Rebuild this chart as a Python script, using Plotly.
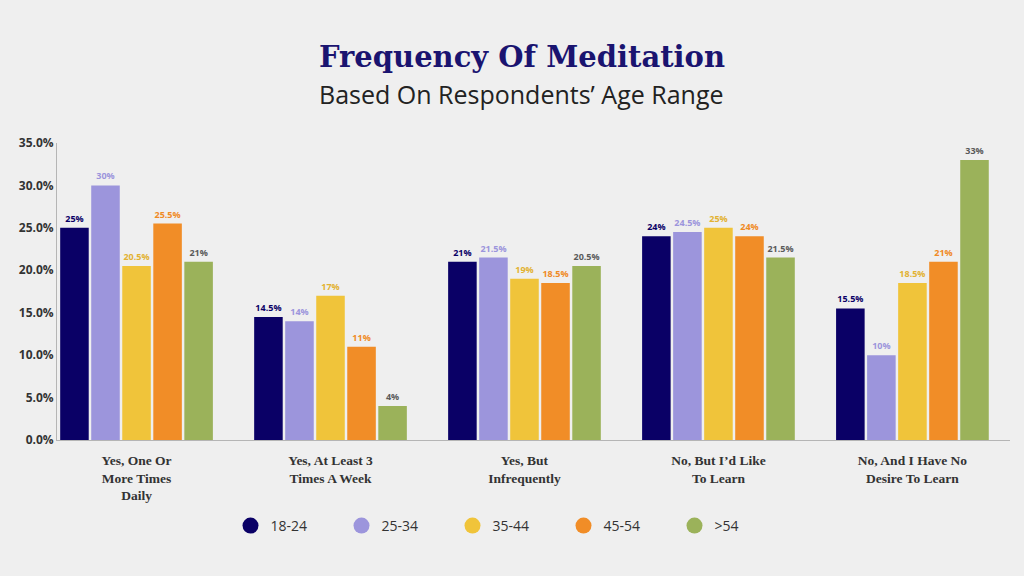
import plotly.graph_objects as go

categories = [
    "Yes, One Or<br>More Times<br>Daily",
    "Yes, At Least 3<br>Times A Week",
    "Yes, But<br>Infrequently",
    "No, But I’d Like<br>To Learn",
    "No, And I Have No<br>Desire To Learn",
]
series_names = ["18-24", "25-34", "35-44", "45-54", ">54"]
v_18_24 = [25, 14.5, 21, 24, 15.5]
v_25_34 = [30, 14, 21.5, 24.5, 10]
v_35_44 = [20.5, 17, 19, 25, 18.5]
v_45_54 = [25.5, 11, 18.5, 24, 21]
v_55 = [21, 4, 20.5, 21.5, 33]
series_values = [v_18_24, v_25_34, v_35_44, v_45_54, v_55]
y_ticks = [0, 5, 10, 15, 20, 25, 30, 35]
y_tick_labels = ["0.0%", "5.0%", "10.0%", "15.0%", "20.0%", "25.0%", "30.0%", "35.0%"]

bar_colors = ["#0a0066", "#9c95dc", "#f0c43a", "#f18d27", "#9bb25a"]
label_colors = ["#0a0066", "#9c95dc", "#e2b232", "#ef8a25", "#5a5a5a"]

fig = go.Figure()
for name, vals, bc, lc in zip(series_names, series_values, bar_colors, label_colors):
    fig.add_trace(go.Bar(
        x=categories, y=vals, name=name,
        marker=dict(color=bc, line=dict(width=0)),
        text=[f"{v:g}%" for v in vals], textposition="outside",
        textfont=dict(family="Open Sans", size=9, color=lc, weight="bold"),
        constraintext="none", cliponaxis=False,
        showlegend=False, hoverinfo="skip",
    ))
    fig.add_trace(go.Scatter(
        x=[None], y=[None], mode="markers", name=name,
        marker=dict(symbol="circle", size=18, color=bc),
        showlegend=True,
    ))

plot_w = 1024 - 57 - 14
plot_h = 576 - 143 - 136

def py(px):
    return (576 - 136 - px) / plot_h

def px_x(px):
    return (px - 57) / plot_w

fig.update_layout(
    width=1024, height=576,
    paper_bgcolor="#efefef", plot_bgcolor="rgba(0,0,0,0)",
    margin=dict(l=57, r=14, t=143, b=136),
    barmode="group", bargap=0.2, bargroupgap=0.08,
    showlegend=True,
    legend=dict(
        orientation="h", x=px_x(508), xanchor="center", y=py(526), yanchor="middle",
        font=dict(family="Open Sans", size=14, color="#333333"),
        entrywidth=66, entrywidthmode="pixels", itemsizing="trace",
        bgcolor="rgba(0,0,0,0)",
    ),
    xaxis=dict(
        type="category", range=[-0.41, 4.503],
        showline=True, linecolor="#b5b5b5", linewidth=1,
        showgrid=False, ticks="", ticklabelstandoff=8,
        tickfont=dict(family="Liberation Serif", size=13.5, color="#333333", weight="bold"),
    ),
    yaxis=dict(
        range=[0, 35], tickvals=y_ticks, ticktext=y_tick_labels,
        showline=True, linecolor="#b5b5b5", linewidth=1,
        showgrid=False, zeroline=False, ticks="",
        tickfont=dict(family="Open Sans", size=12, color="#333333", weight="bold"),
    ),
    annotations=[
        dict(text="Frequency Of Meditation", x=px_x(521.5), y=py(57), xref="paper", yref="paper",
             xanchor="center", yanchor="middle",
             showarrow=False, font=dict(family="DejaVu Serif", size=29, color="#1a1470", weight="bold")),
        dict(text="Based On Respondents’ Age Range", x=px_x(521.5), y=py(94), xref="paper", yref="paper",
             xanchor="center", yanchor="middle",
             showarrow=False, font=dict(family="Open Sans", size=25, color="#222222")),
    ],
)

fig.write_html("out.html", config={"displayModeBar": False},
               post_script="document.body.style.margin='0';")
